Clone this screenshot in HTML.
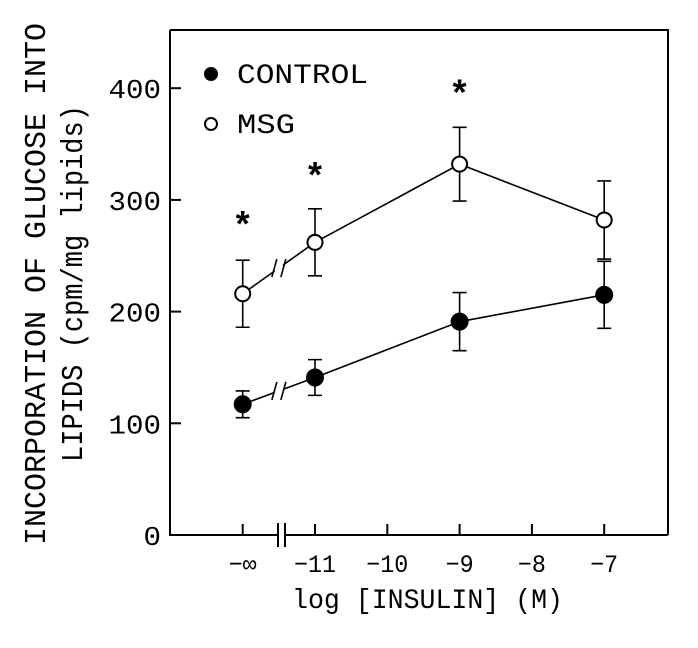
<!DOCTYPE html>
<html><head><meta charset="utf-8"><style>
body{margin:0;background:#fff}
text{font-family:"Liberation Mono","DejaVu Sans Mono",monospace;fill:#000}
</style></head><body>
<svg id="chart" width="698" height="643" viewBox="0 0 698 643" xmlns="http://www.w3.org/2000/svg">
<g id="frame" fill="none" stroke="#000" stroke-width="2">
<path d="M170 30 L668 30 L668 535"/>
<path d="M170 30 L170 535 L278 535 M285 535 L668 535"/>
<path d="M278 523 L278 547 M285 523 L285 547" stroke-width="2"/>
</g>
<g id="yticks"></g><g id="xticks"></g><g id="series"></g>
<text x="292" y="608" font-size="28" textLength="271" lengthAdjust="spacingAndGlyphs">log [INSULIN] (M)</text>
<text transform="translate(45,545) rotate(-90)" font-size="31" textLength="522" lengthAdjust="spacingAndGlyphs">INCORPORATION OF GLUCOSE INTO</text>
<text transform="translate(82,462) rotate(-90)" font-size="31" textLength="357" lengthAdjust="spacingAndGlyphs">LIPIDS (cpm/mg lipids)</text>
<g>
<circle cx="211" cy="74" r="7" fill="#000"/>
<text x="237" y="83" font-size="28" textLength="131" lengthAdjust="spacingAndGlyphs">CONTROL</text>
<circle cx="211" cy="124" r="6" fill="none" stroke="#000" stroke-width="2"/>
<text x="237" y="133" font-size="28" textLength="58" lengthAdjust="spacingAndGlyphs">MSG</text>
</g>
</svg>
<script>
const yTicks=[0,100,200,300,400];
const xTickVals=[-12,-11,-10,-9,-8,-7];
const xTickLabels=["−∞","−11","−10","−9","−8","−7"];
const xVals=[-12,-11,-9,-7];
const controlMean=[117,141,191,215];
const controlErr=[12,16,26,30];
const msgMean=[216,262,332,282];
const msgErr=[30,30,33,35];
const starVals=[281,325,399];
const ns="http://www.w3.org/2000/svg";
const X=v=>315+(v+11)*72.3;
const Y=v=>535-v*1.117;
function mk(t,a,p){const e=document.createElementNS(ns,t);for(const k in a)e.setAttribute(k,a[k]);p.appendChild(e);return e;}
const yt=document.getElementById('yticks'),xt=document.getElementById('xticks'),sg=document.getElementById('series');
yTicks.forEach(v=>{
 const l=mk('line',{x1:170,x2:181,y1:Y(v),y2:Y(v),stroke:'#000','stroke-width':2},yt);
 
 
 const s=String(v);
 const t=mk('text',{x:161-s.length*17.5,y:Y(v)+10,'font-size':27,textLength:s.length*17.5,lengthAdjust:'spacingAndGlyphs'},yt);t.textContent=s;
 
 
});
xTickVals.forEach((v,i)=>{
 const l=mk('line',{x1:X(v),x2:X(v),y1:535,y2:524,stroke:'#000','stroke-width':2},xt);
 
 
 const w=xTickLabels[i].length*14;
 const t=mk('text',{x:X(v)-w/2,y:572,'font-size':25,textLength:w,lengthAdjust:'spacingAndGlyphs'},xt);t.textContent=xTickLabels[i];
 
 
});
function series(mean,err,filled,name){
 const g=mk('g',{},sg);
 
 
 let d='';mean.forEach((m,i)=>{d+=(i?'L':'M')+X(xVals[i])+' '+Y(m);});
 mk('path',{d:d,fill:'none',stroke:'#000','stroke-width':1.6},g);
 const mx=(X(xVals[0])+X(xVals[1]))/2,my=(Y(mean[0])+Y(mean[1]))/2;
 mk('rect',{x:mx-4,y:my-6,width:8,height:12,fill:'#fff'},g);
 mk('path',{d:`M${mx-7} ${my+9}L${mx-2} ${my-9}M${mx+2} ${my+9}L${mx+7} ${my-9}`,stroke:'#000','stroke-width':1.6},g);
 mean.forEach((m,i)=>{
  const x=X(xVals[i]);
  const eb=mk('path',{d:`M${x} ${Y(m+err[i])}L${x} ${Y(m-err[i])}M${x-7} ${Y(m+err[i])}L${x+7} ${Y(m+err[i])}M${x-7} ${Y(m-err[i])}L${x+7} ${Y(m-err[i])}`,stroke:'#000','stroke-width':1.6,fill:'none'},g);
  
  
  const c=mk('circle',{cx:x,cy:Y(m),r:filled?8:7.5,fill:filled?'#000':'#fff',stroke:'#000','stroke-width':2},g);
  
  
 });
}
series(msgMean,msgErr,false,'msg');
series(controlMean,controlErr,true,'control');
starVals.forEach((v,i)=>{
 const t=mk('text',{x:X(xVals[i]),y:Y(v)+16,'font-size':36,'font-weight':'bold','text-anchor':'middle'},sg);t.textContent='*';
 
 
});
</script>
</body></html>
